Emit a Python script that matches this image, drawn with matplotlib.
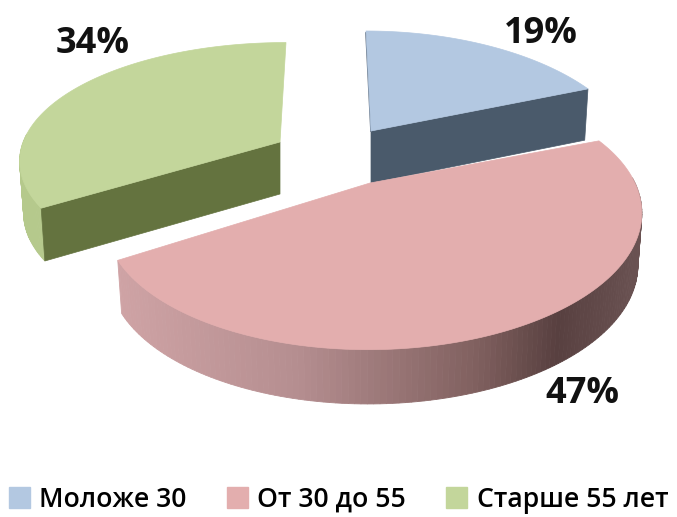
import matplotlib
matplotlib.use('Agg')
import matplotlib.pyplot as plt
import numpy as np
from matplotlib.colors import to_rgb
from matplotlib.patches import Patch, Polygon

categories = ['Моложе 30', 'От 30 до 55', 'Старше 55 лет']
shares = [19, 47, 34]
top_colors = ['#b3c8e1', '#e3aeae', '#c3d69b']

plt.rcParams['font.family'] = ['Open Sans', 'DejaVu Sans']

fig = plt.figure(figsize=(6.77, 5.17), dpi=100)
ax = fig.add_axes([0, 0, 1, 1])
ax.set_xlim(0, 677)
ax.set_ylim(517, 0)
ax.axis('off')

bounds = np.cumsum([0] + shares) / 100 * 2 * np.pi


def rim(t, cx, cy, rx, ry, k, lean):
    # circle seen in perspective, v runs to the back
    u, v = np.sin(t), np.cos(t)
    s = 1 / (1 + k * v)
    return cx + rx * u * s + lean * v, cy - ry * v * s, s


def drop(x, y, s, cx, depth=52):
    # lower edge of the side wall
    return cx + (x - cx) * 0.985, y + depth * s ** 0.15


def side_color(x):
    xs = [117, 300, 480, 560, 640]
    cs = np.array([to_rgb(c) for c in ['#cfa3a5', '#b58e90', '#80605f', '#584040', '#6a5252']])
    return [np.interp(x, xs, cs[:, i]) for i in range(3)]


def draw_slice(i, apex, geo, wall, cut):
    t = np.linspace(bounds[i], bounds[i + 1], 160)
    x, y, s = rim(t, *geo)
    bx, by = drop(x, y, s, geo[0])
    for j in range(len(t) - 1):
        # back part of the wall is hidden behind the top
        if np.cos(t[j]) > 0.05:
            continue
        c = wall if wall else side_color(x[j])
        ax.add_patch(Polygon([(x[j], y[j]), (x[j + 1], y[j + 1]), (bx[j + 1], by[j + 1]), (bx[j], by[j])],
                             fc=c, ec=c, lw=0.6, zorder=2 + i))
    if cut:
        ex, ey = x[cut[0]], y[cut[0]]
        ebx, eby = bx[cut[0]], by[cut[0]]
        ax.add_patch(Polygon([apex, (ex, ey), (ebx, eby), (apex[0], apex[1] + 52)],
                             fc=cut[1], ec=cut[1], lw=0.5, zorder=2 + i))
    ax.add_patch(Polygon(np.vstack([[apex], np.column_stack([x, y])]),
                         fc=top_colors[i], ec=top_colors[i], lw=0.5, zorder=2.5 + i))


draw_slice(0, (371, 131), (371, 131, 257, 125, 0.25, -5), '#4a5a6b', (-1, '#4a5a6b'))
draw_slice(2, (280, 142), (286, 140, 262, 115, 0.18, 0), '#b5c98c', (0, '#64733f'))
draw_slice(1, (370, 183), (375, 183, 260, 125, 0.25, 7), None, None)
ax.plot([366, 371], [33, 131], color='#5d6d80', lw=1.2, zorder=2.2)

label_pos = [(541, 34), (582, 394), (93, 44)]
for v, (lx, ly) in zip(shares, label_pos):
    ax.text(lx, ly, f'{v}%', ha='center', va='center', fontsize=26, fontweight='bold', color='#111111', zorder=8)

handles = [Patch(color=c) for c in top_colors]
ax.legend(handles, categories, loc='lower center', bbox_to_anchor=(0.5, -0.035), ncol=3, frameon=False,
          prop={'size': 19.2, 'weight': 'semibold'}, handlelength=0.8, handleheight=0.8,
          handletextpad=0.35, columnspacing=1.5, borderpad=0.3)

fig.savefig('out.png', dpi=100)
